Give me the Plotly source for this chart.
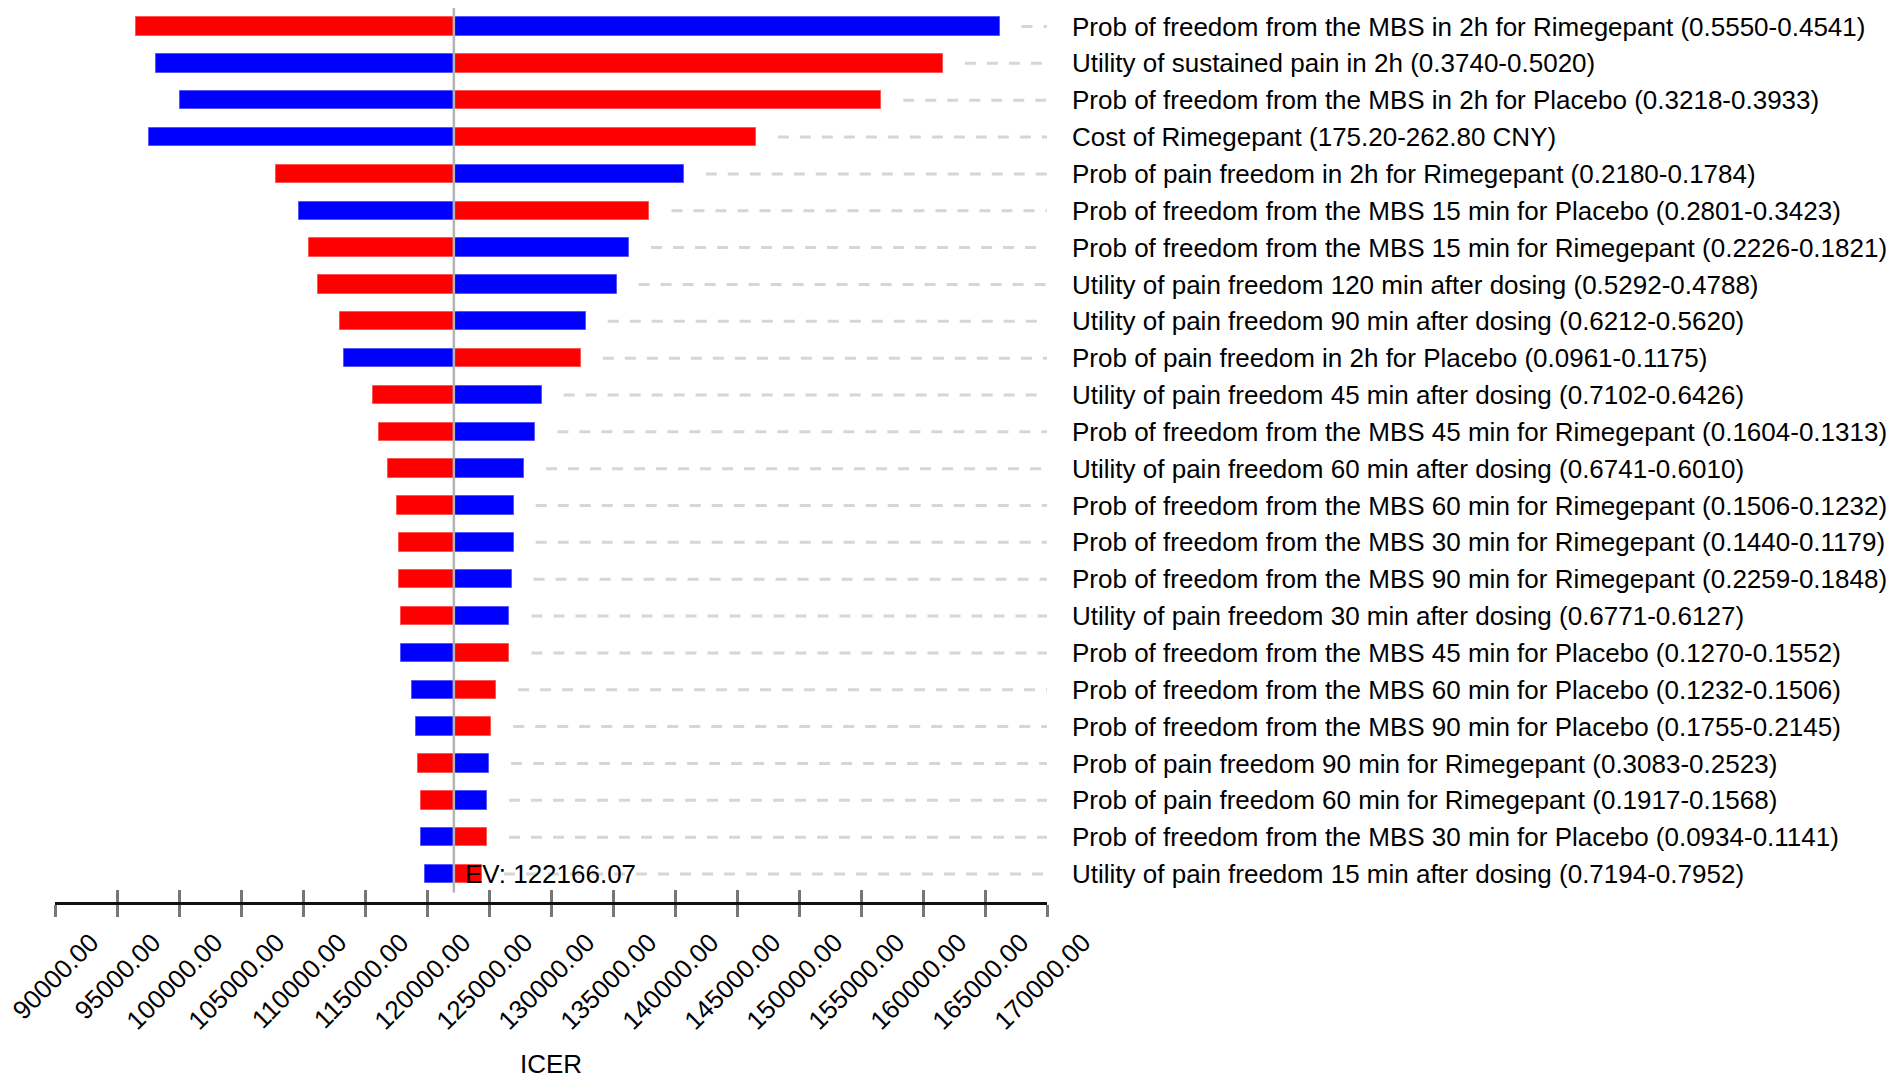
import plotly.graph_objects as go

# tornado diagram, one-way sensitivity on the ICER
ev = 122166.07

params = [
    "Prob of freedom from the MBS in 2h for Rimegepant (0.5550-0.4541)",
    "Utility of sustained pain in 2h (0.3740-0.5020)",
    "Prob of freedom from the MBS in 2h for Placebo (0.3218-0.3933)",
    "Cost of Rimegepant (175.20-262.80 CNY)",
    "Prob of pain freedom in 2h for Rimegepant (0.2180-0.1784)",
    "Prob of freedom from the MBS 15 min for Placebo (0.2801-0.3423)",
    "Prob of freedom from the MBS 15 min for Rimegepant (0.2226-0.1821)",
    "Utility of pain freedom 120 min after dosing (0.5292-0.4788)",
    "Utility of pain freedom 90 min after dosing (0.6212-0.5620)",
    "Prob of pain freedom in 2h for Placebo (0.0961-0.1175)",
    "Utility of pain freedom 45 min after dosing (0.7102-0.6426)",
    "Prob of freedom from the MBS 45 min for Rimegepant (0.1604-0.1313)",
    "Utility of pain freedom 60 min after dosing (0.6741-0.6010)",
    "Prob of freedom from the MBS 60 min for Rimegepant (0.1506-0.1232)",
    "Prob of freedom from the MBS 30 min for Rimegepant (0.1440-0.1179)",
    "Prob of freedom from the MBS 90 min for Rimegepant (0.2259-0.1848)",
    "Utility of pain freedom 30 min after dosing (0.6771-0.6127)",
    "Prob of freedom from the MBS 45 min for Placebo (0.1270-0.1552)",
    "Prob of freedom from the MBS 60 min for Placebo (0.1232-0.1506)",
    "Prob of freedom from the MBS 90 min for Placebo (0.1755-0.2145)",
    "Prob of pain freedom 90 min for Rimegepant (0.3083-0.2523)",
    "Prob of pain freedom 60 min for Rimegepant (0.1917-0.1568)",
    "Prob of freedom from the MBS 30 min for Placebo (0.0934-0.1141)",
    "Utility of pain freedom 15 min after dosing (0.7194-0.7952)",
]

# ICER at each end of the range (red bar / blue bar)
icer_red = [96550, 161600, 156630, 146520, 107840, 137940, 110500, 111170,
            112980, 132410, 115640, 116140, 116880, 117560, 117780, 117720,
            117890, 126650, 125570, 125180, 119310, 119530, 124840, 124440]
icer_blue = [166170, 98130, 100110, 97620, 140710, 109650, 136300, 135290,
             132800, 113320, 129240, 128740, 127830, 126990, 126990, 126820,
             126650, 117890, 118800, 119140, 125010, 124840, 119530, 119870]

x_ticks = list(range(90000, 170001, 5000))

FONT = "Arial, Liberation Sans, sans-serif"
rows = list(range(len(params)))
xmin, xmax = 90000, 170000
plot_w = 992
gap = 22 * (xmax - xmin) / plot_w  # space between bar end and dashed guide
y_top = -0.502

fig = go.Figure()

fig.add_trace(go.Bar(
    y=rows, x=[v - ev for v in icer_red], base=ev, orientation="h",
    width=0.5, marker=dict(color="#ff0000", line=dict(color="#ff5555", width=1)),
    showlegend=False, hoverinfo="skip",
))
fig.add_trace(go.Bar(
    y=rows, x=[v - ev for v in icer_blue], base=ev, orientation="h",
    width=0.5, marker=dict(color="#0000ff", line=dict(color="#5555ff", width=1)),
    showlegend=False, hoverinfo="skip",
))

# dashed guides from bar end to the labels
gx, gy = [], []
for i in rows:
    gx += [max(icer_red[i], icer_blue[i]) + gap, xmax, None]
    gy += [i, i, None]
fig.add_trace(go.Scatter(
    x=gx, y=gy, mode="lines",
    line=dict(color="#d6d6d6", width=3, dash="11px,11px"),
    showlegend=False, hoverinfo="skip",
))
# invisible twin so the crossing tick marks can be drawn
fig.add_trace(go.Scatter(x=[xmin, xmax], y=[0, 0], xaxis="x2", mode="markers",
                         marker=dict(opacity=0), showlegend=False, hoverinfo="skip"))

fig.add_shape(type="line", x0=ev, x1=ev, y0=y_top, y1=23.5, xref="x", yref="y",
              line=dict(color="#b3b3b3", width=2.5), layer="above")

fig.add_annotation(x=ev, y=23, xref="x", yref="y", text="EV: 122166.07",
                   showarrow=False, xanchor="left", xshift=9,
                   font=dict(family=FONT, size=26, color="#000000"))

# page body adds 8px, so the figure is 8px smaller than the window
fig.update_layout(
    width=1894, height=1071,
    margin=dict(l=47, r=855, t=0, b=177),
    plot_bgcolor="white", paper_bgcolor="white",
    barmode="overlay", bargap=0,
    font=dict(family=FONT, size=26, color="#000000"),
    xaxis=dict(
        range=[xmin, xmax], tickvals=x_ticks, tickformat=".2f",
        tickangle=-45, tickfont=dict(size=26),
        ticks="outside", ticklen=12, tickwidth=2.5, tickcolor="#777777",
        ticklabelshift=36, ticklabeloverflow="allow", automargin=False,
        showline=True, linecolor="#111111", linewidth=3,
        showgrid=False, zeroline=False,
        title=dict(text="ICER", font=dict(size=26), standoff=30),
    ),
    xaxis2=dict(
        range=[xmin, xmax], tickvals=x_ticks, overlaying="x", anchor="y",
        side="bottom", ticks="inside", ticklen=12, tickwidth=2.5,
        tickcolor="#777777", showticklabels=False, showgrid=False,
        zeroline=False, showline=False, automargin=False,
    ),
    yaxis=dict(
        range=[23.76, y_top], tickvals=rows, ticktext=params, side="right",
        ticks="", ticklabelstandoff=24, showline=False, showgrid=False,
        zeroline=False, tickfont=dict(size=26), automargin=False,
    ),
)

fig.write_html("out.html")
